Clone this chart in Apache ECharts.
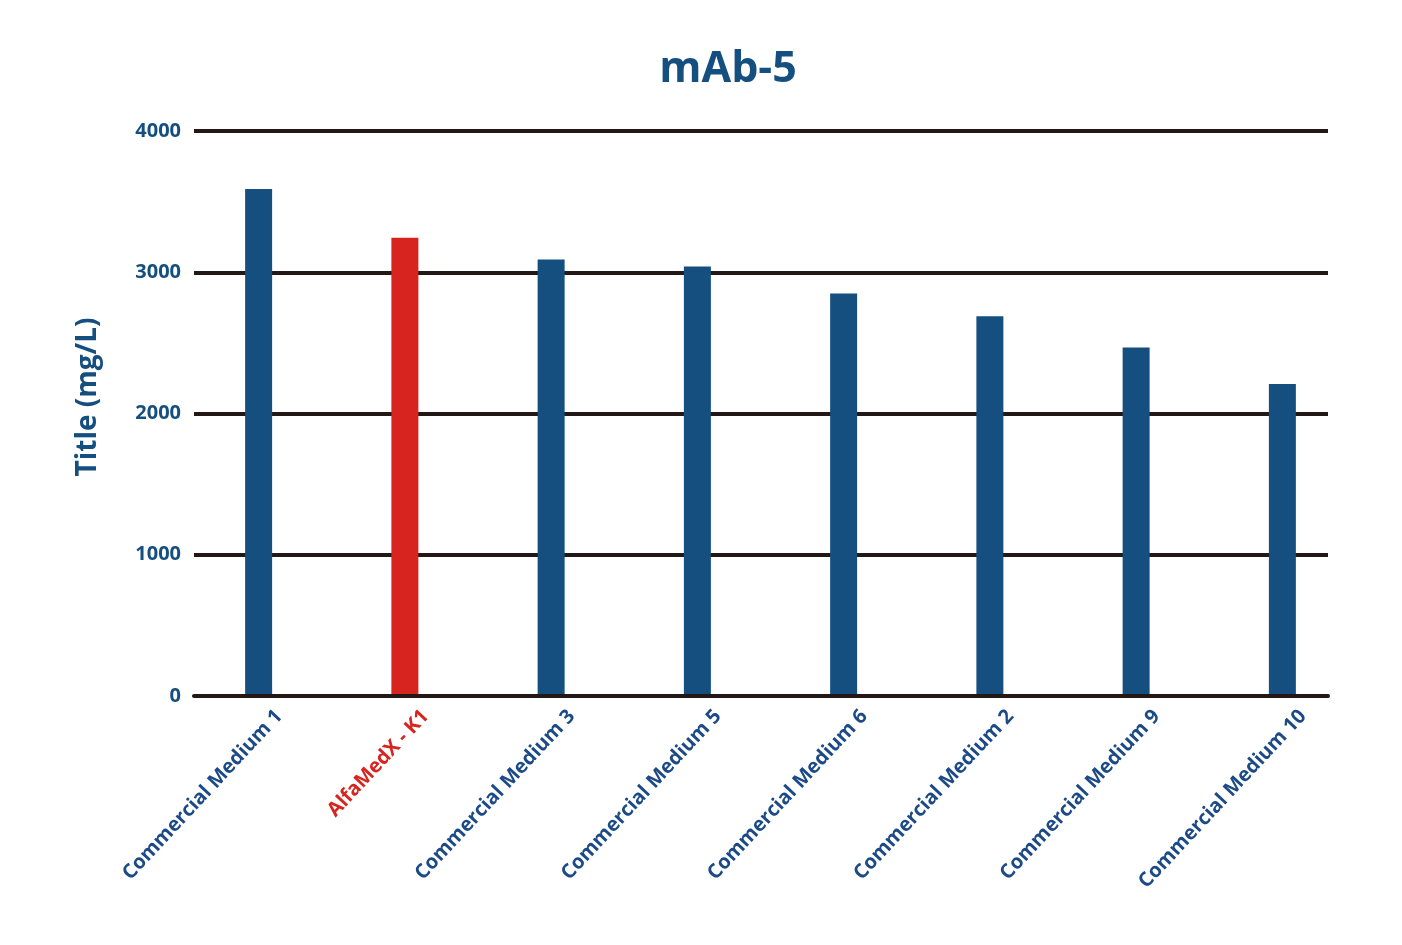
<!DOCTYPE html>
<html>
<head>
<meta charset="utf-8">
<script src="https://cdn.jsdelivr.net/npm/echarts@6/dist/echarts.min.js"></script>
<style>
html,body{margin:0;padding:0;background:#fff;}
#chart{width:1402px;height:945px;}
</style>
</head>
<body>
<div id="chart"></div>
<script>
const titleText = 'mAb-5';
const yAxisTitle = 'Title (mg/L)';
const categories = ['Commercial Medium 1','AlfaMedX - K1','Commercial Medium 3','Commercial Medium 5','Commercial Medium 6','Commercial Medium 2','Commercial Medium 9','Commercial Medium 10'];
const values = [3590, 3245, 3090, 3040, 2850, 2688, 2468, 2208];
const highlightCategory = 'AlfaMedX - K1';
const yTicks = [0, 1000, 2000, 3000, 4000];

const BLUE = '#154f80';
const RED = '#d8241f';
const LINE = '#231815';
const LABEL_BLUE = '#1b4a86';
const FONT = '"Open Sans", "Noto Sans", sans-serif';

const chart = echarts.init(document.getElementById('chart'), null, {renderer: 'canvas'});
const option = {
  backgroundColor: '#fff',
  animation: false,
  graphic: [{
    type: 'text',
    x: 728, y: 70,
    style: {
      text: titleText, fill: BLUE, fontSize: 43, fontWeight: 'bold', fontFamily: FONT,
      align: 'center', verticalAlign: 'middle'
    }
  }, {
    type: 'text',
    x: 88, y: 397, rotation: Math.PI / 2,
    style: {
      text: yAxisTitle, fill: BLUE, fontSize: 28, fontWeight: 'bold', fontFamily: FONT,
      align: 'center', verticalAlign: 'middle'
    }
  }],
  grid: [
    {left: 194, right: 74, top: 131, bottom: 249},
    {left: 185.5, right: 46.5, top: 131, bottom: 249},
    {left: 206, right: 26, top: 131, bottom: 249}
  ],
  xAxis: [
    {
      gridIndex: 0, type: 'value', min: 0, max: 1, z: 10,
      axisLine: {show: true, lineStyle: {color: LINE, width: 4}},
      axisTick: {show: false}, axisLabel: {show: false}, splitLine: {show: false}
    },
    {
      gridIndex: 1, type: 'category', data: categories,
      axisLine: {show: false}, axisTick: {show: false}, axisLabel: {show: false}
    },
    {
      gridIndex: 2, type: 'category', data: categories,
      axisLine: {show: false}, axisTick: {show: false},
      axisLabel: {
        interval: 0, rotate: 47, margin: 17,
        fontSize: 20, fontWeight: 'bold', fontFamily: FONT,
        color: function (v) { return v === highlightCategory ? RED : LABEL_BLUE; }
      }
    }
  ],
  yAxis: [
    {
      gridIndex: 0, type: 'value', min: yTicks[0], max: yTicks[yTicks.length - 1], interval: 1000,
      axisLine: {show: false}, axisTick: {show: false},
      axisLabel: {margin: 13, fontSize: 20, fontWeight: 'bold', fontFamily: FONT, color: BLUE,
        formatter: function (v) { return String(v); }},
      splitLine: {show: true, lineStyle: {color: LINE, width: 4}}
    },
    {
      gridIndex: 1, type: 'value', min: yTicks[0], max: yTicks[yTicks.length - 1], interval: 1000,
      show: false, splitLine: {show: false}
    },
    {
      gridIndex: 2, type: 'value', min: yTicks[0], max: yTicks[yTicks.length - 1], interval: 1000,
      show: false, splitLine: {show: false}
    }
  ],
  series: [{
    type: 'bar',
    xAxisIndex: 1, yAxisIndex: 1,
    barWidth: 27,
    data: values.map((v, i) => ({
      value: v,
      itemStyle: {color: categories[i] === highlightCategory ? RED : BLUE}
    }))
  }]
};
chart.setOption(option);
</script>
</body>
</html>
